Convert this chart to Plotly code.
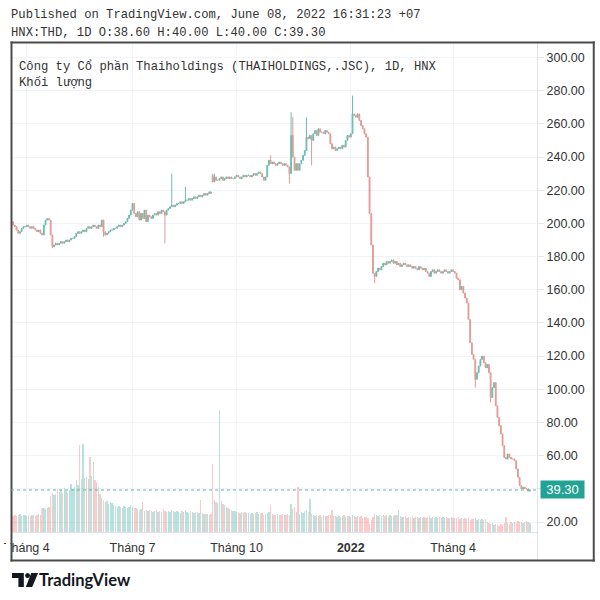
import plotly.graph_objects as go

# ---------------- data ----------------
close = [
    201, 199, 198, 196, 194, 195, 197, 198, 198, 199,
    198, 197, 198, 197, 196, 195, 196, 194, 193, 199,
    202, 203, 202, 193, 186, 187, 188, 187, 188, 189,
    188, 189, 190, 189, 190, 191, 191, 192, 194, 195,
    194, 195, 196, 195, 197, 198, 197, 198, 199, 198,
    197, 199, 198, 202, 195, 193, 194, 195, 196, 196,
    197, 197, 198, 199, 198, 199, 200, 201, 203, 205,
    208, 212, 206, 204, 207, 202, 206, 203, 208, 201,
    205, 204, 203, 205, 206, 205, 207, 206, 208, 207,
    205, 208, 209, 210, 211, 210, 211, 212, 212, 213,
    212, 213, 214, 214, 215, 214, 215, 216, 215, 216,
    217, 216, 217, 218, 217, 218, 219, 218, 225, 228,
    226, 226, 227, 228, 226, 227, 228, 227, 228, 227,
    227, 228, 229, 228, 227, 228, 229, 228, 229, 229,
    228, 229, 230, 229, 230, 231, 230, 228, 226, 228,
    235, 238, 236, 237, 236, 235, 236, 237, 236, 235,
    236, 235, 234, 230, 253, 240, 232, 236, 232, 236,
    238, 241, 244, 252, 251, 253, 250, 254, 256, 253,
    257, 255, 255, 254, 256, 255, 254, 248, 245, 246,
    244, 245, 246, 245, 247, 246, 250, 253, 252, 254,
    266, 265, 264, 266, 262, 259, 257, 254, 252, 228,
    206, 187, 170, 168, 171, 173, 172, 174, 176, 175,
    177, 176, 177, 178, 176, 177, 175, 176, 174, 175,
    176, 175, 174, 175, 174, 173, 174, 173, 172, 174,
    173, 172, 173, 171, 170, 168, 171, 172, 170, 171,
    172, 171, 170, 171, 172, 171, 170, 171, 172, 171,
    170, 167, 166, 160, 162, 158, 155, 152, 142, 128,
    121, 118, 106, 110, 114, 118, 120, 116, 113, 115,
    110, 95, 101, 104, 90, 83, 78, 73, 66, 59,
    58, 61, 59, 58, 58, 57, 52, 47, 42, 40,
    41, 40, 40, 38.6, 39.3,
]

# sessions that opened away from the previous close (gap opens)
gap_opens = {118: 229, 304: 38.6}
# long upper / lower wicks visible on the chart
wick_highs = {94: 230, 102: 222, 118: 230, 119: 230, 152: 241, 164: 267,
              165: 264, 173: 264, 200: 277}
wick_lows = {24: 185, 54: 192, 90: 188, 163: 224, 176: 235, 213: 164,
             272: 101, 281: 92}

# volume, thousand shares
volume = [
    170, 160, 175, 165, 170, 180, 165, 170, 175, 160,
    170, 165, 175, 170, 160, 175, 180, 170, 240, 245,
    235, 240, 250, 360, 390, 370, 380, 430, 400, 420,
    380, 440, 410, 390, 420, 480, 430, 450, 520, 470,
    870, 530, 880, 540, 550, 530, 750, 560, 700, 520,
    500, 450, 380, 340, 320, 300, 310, 280, 300, 290,
    270, 260, 250, 265, 255, 240, 260, 250, 245, 255,
    270, 250, 240, 245, 230, 220, 235, 300, 215, 220,
    210, 225, 215, 200, 210, 220, 205, 215, 200, 230,
    210, 200, 215, 205, 220, 210, 200, 215, 205, 195,
    210, 200, 220, 205, 195, 210, 200, 190, 205, 200,
    195, 320, 190, 185, 180, 185, 175, 180, 680, 320,
    300, 290, 1220, 310, 280, 270, 255, 240, 230, 220,
    215, 210, 200, 205, 195, 200, 190, 205, 195, 190,
    185, 195, 180, 190, 200, 185, 180, 190, 175, 185,
    195, 200, 270, 180, 175, 170, 180, 175, 170, 180,
    175, 170, 180, 175, 280, 230, 250, 200, 450, 180,
    200, 190, 210, 220, 200, 330, 180, 170, 165, 175,
    160, 170, 155, 175, 165, 160, 170, 175, 220, 165,
    160, 155, 165, 150, 160, 170, 155, 160, 165, 150,
    175, 160, 155, 165, 150, 160, 145, 155, 150, 140,
    80, 120, 150, 180, 170, 165, 175, 160, 170, 165,
    175, 160, 170, 165, 160, 175, 170, 220, 160, 155,
    150, 160, 145, 155, 150, 160, 145, 150, 155, 140,
    150, 145, 155, 140, 150, 160, 145, 150, 140, 155,
    145, 150, 140, 155, 145, 150, 140, 145, 150, 140,
    145, 140, 150, 135, 140, 130, 145, 135, 140, 125,
    135, 130, 140, 125, 130, 120, 135, 125, 130, 100,
    90, 80, 95, 70, 85, 75, 65, 80, 70, 90,
    150, 95, 85, 100, 90, 105, 95, 110, 100, 105,
    95, 100, 110, 105, 90,
]

price_ticks = [20, 40, 60, 80, 100, 120, 140, 160, 180, 200, 220, 240, 260, 280, 300]
# bar index of the first session of each labelled month
time_tick_index = [9, 71, 132, 199, 259]
time_tick_labels = ["Tháng 4", "Tháng 7", "Tháng 10", "<b>2022</b>", "Tháng 4"]
last_price_text = "39.30"

# ---------------- derived series ----------------
n = len(close)
idx = list(range(n))
opens = [gap_opens.get(i, close[i - 1] if i > 0 else close[0]) for i in range(n)]
highs = [max(opens[i], close[i], wick_highs.get(i, close[i])) for i in range(n)]
lows = [min(opens[i], close[i], wick_lows.get(i, close[i])) for i in range(n)]

UP = "#6dbcb1"
DOWN = "#e39a96"
vol_colors = ["rgba(38,166,154,0.33)" if close[i] >= opens[i] else "rgba(239,83,80,0.30)"
              for i in range(n)]

# ---------------- geometry helpers (pixels -> paper) ----------------
PL, PR, PT, PB = 4, 537, 43, 532
BAR_PX = 1.728
def px(x):
    return (x - PL) / (PR - PL)
def py(y):
    return (PB - y) / (PB - PT)

fig = go.Figure()
fig.add_trace(go.Bar(
    x=idx, y=volume, yaxis="y2", marker=dict(color=vol_colors, line=dict(width=0)),
    width=0.78, hoverinfo="skip", showlegend=False))
fig.add_trace(go.Candlestick(
    x=idx, open=opens, high=highs, low=lows, close=close,
    increasing=dict(line=dict(color=UP, width=1), fillcolor=UP),
    decreasing=dict(line=dict(color=DOWN, width=1), fillcolor=DOWN),
    whiskerwidth=0, hoverinfo="skip", showlegend=False))

ticktext_price = ["" if v == 40 else f"{v:.2f}" for v in price_ticks]

fig.update_layout(
    width=600, height=600, autosize=False,
    margin=dict(l=PL, r=600 - PR, t=PT, b=600 - PB, pad=0),
    paper_bgcolor="white", plot_bgcolor="white",
    showlegend=False, bargap=0,
    xaxis=dict(
        range=[9 - (20 - PL) / BAR_PX, 9 + (PR - 20) / BAR_PX],
        tickmode="array", tickvals=time_tick_index, ticktext=time_tick_labels,
        showgrid=True, gridcolor="#f0f3fa", gridwidth=1, zeroline=False,
        showline=False, ticks="", ticklabelstandoff=6,
        tickfont=dict(family="Liberation Sans", size=12.5, color="#333333"),
        ticklabeloverflow="allow", rangeslider=dict(visible=False), fixedrange=True),
    yaxis=dict(
        side="right", range=[13.97, 308.74],
        tickmode="array", tickvals=price_ticks, ticktext=ticktext_price,
        showgrid=True, gridcolor="#f0f3fa", gridwidth=1, zeroline=False,
        showline=False, ticks="outside", ticklen=6, tickcolor="#e6e8ee",
        tickfont=dict(family="Liberation Sans", size=12.5, color="#333333"),
        fixedrange=True),
    yaxis2=dict(overlaying="y", range=[0, 4890], visible=False, fixedrange=True),
)

shapes = []
def prect(x0, y0, x1, y1, fill):
    shapes.append(dict(type="rect", xref="paper", yref="paper",
                       x0=px(x0), x1=px(x1), y0=py(y1), y1=py(y0),
                       line=dict(width=0), fillcolor=fill, layer="above"))
def ppath(points, fill):
    d = "M " + " L ".join(f"{px(x)},{py(y)}" for x, y in points) + " Z"
    shapes.append(dict(type="path", xref="paper", yref="paper", path=d,
                       line=dict(width=0), fillcolor=fill, layer="above"))

# white margin left of the frame (hides the clipped part of the first time label)
prect(-1, 43, 3.5, 561, "white")
# price scale / time scale separators (thin filled strips)
SEP = "#e0e3eb"
prect(537, 43, 538, 561, SEP)
prect(5, 532, 537, 533, SEP)
# outer frame (filled strips)
FRAME = "#4a4a4a"
prect(3.5, 41.5, 595.5, 43.5, FRAME)
prect(3.5, 559.5, 595.5, 561.5, FRAME)
prect(3.5, 41.5, 5.5, 561.5, FRAME)
prect(593.5, 41.5, 595.5, 561.5, FRAME)
# last price dotted line
shapes.append(dict(type="line", xref="paper", yref="y",
                   x0=0, x1=1, y0=close[-1], y1=close[-1],
                   line=dict(color="#6aaea6", width=1, dash="dot"), layer="above"))
# TradingView logo
LOGO = "#131722"
ppath([(5, 573), (17, 573), (17, 587), (11.5, 587), (11.5, 578), (5, 578)], LOGO)
shapes.append(dict(type="circle", xref="paper", yref="paper",
                   x0=px(18.3), x1=px(23.3), y0=py(578), y1=py(573),
                   line=dict(width=0), fillcolor=LOGO))
ppath([(24.5, 573), (31.5, 573), (25.5, 587), (19, 587)], LOGO)
fig.update_layout(shapes=shapes)

MONO = dict(family="Liberation Mono", size=12.2, color="#333333")
ann = []
def text(x, y, s, font, anchor="left"):
    ann.append(dict(xref="paper", yref="paper", x=px(x), y=py(y), text=s,
                    showarrow=False, xanchor=anchor, yanchor="middle", font=font))

text(2, 15, "Published on TradingView.com, June 08, 2022 16:31:23 +07", MONO)
text(2, 33, "HNX:THD, 1D O:38.60 H:40.00 L:40.00 C:39.30", MONO)
text(10, 66, "Công ty Cổ phần Thaiholdings (THAIHOLDINGS,.JSC), 1D, HNX", MONO)
text(10, 83, "Khối lượng", MONO)
text(30, 580, "<b>TradingView</b>", dict(family="Lato", size=16.5, color=LOGO))
ann.append(dict(xref="paper", yref="y", x=px(540), y=close[-1], text=last_price_text,
                showarrow=False, xanchor="left", yanchor="middle",
                bgcolor="#22a393", borderpad=2, width=39, height=13, align="center",
                font=dict(family="Liberation Sans", size=13, color="white")))
fig.update_layout(annotations=ann)

fig.write_html("out.html", post_script="document.body.style.margin='0';",
               config={"displayModeBar": False})
